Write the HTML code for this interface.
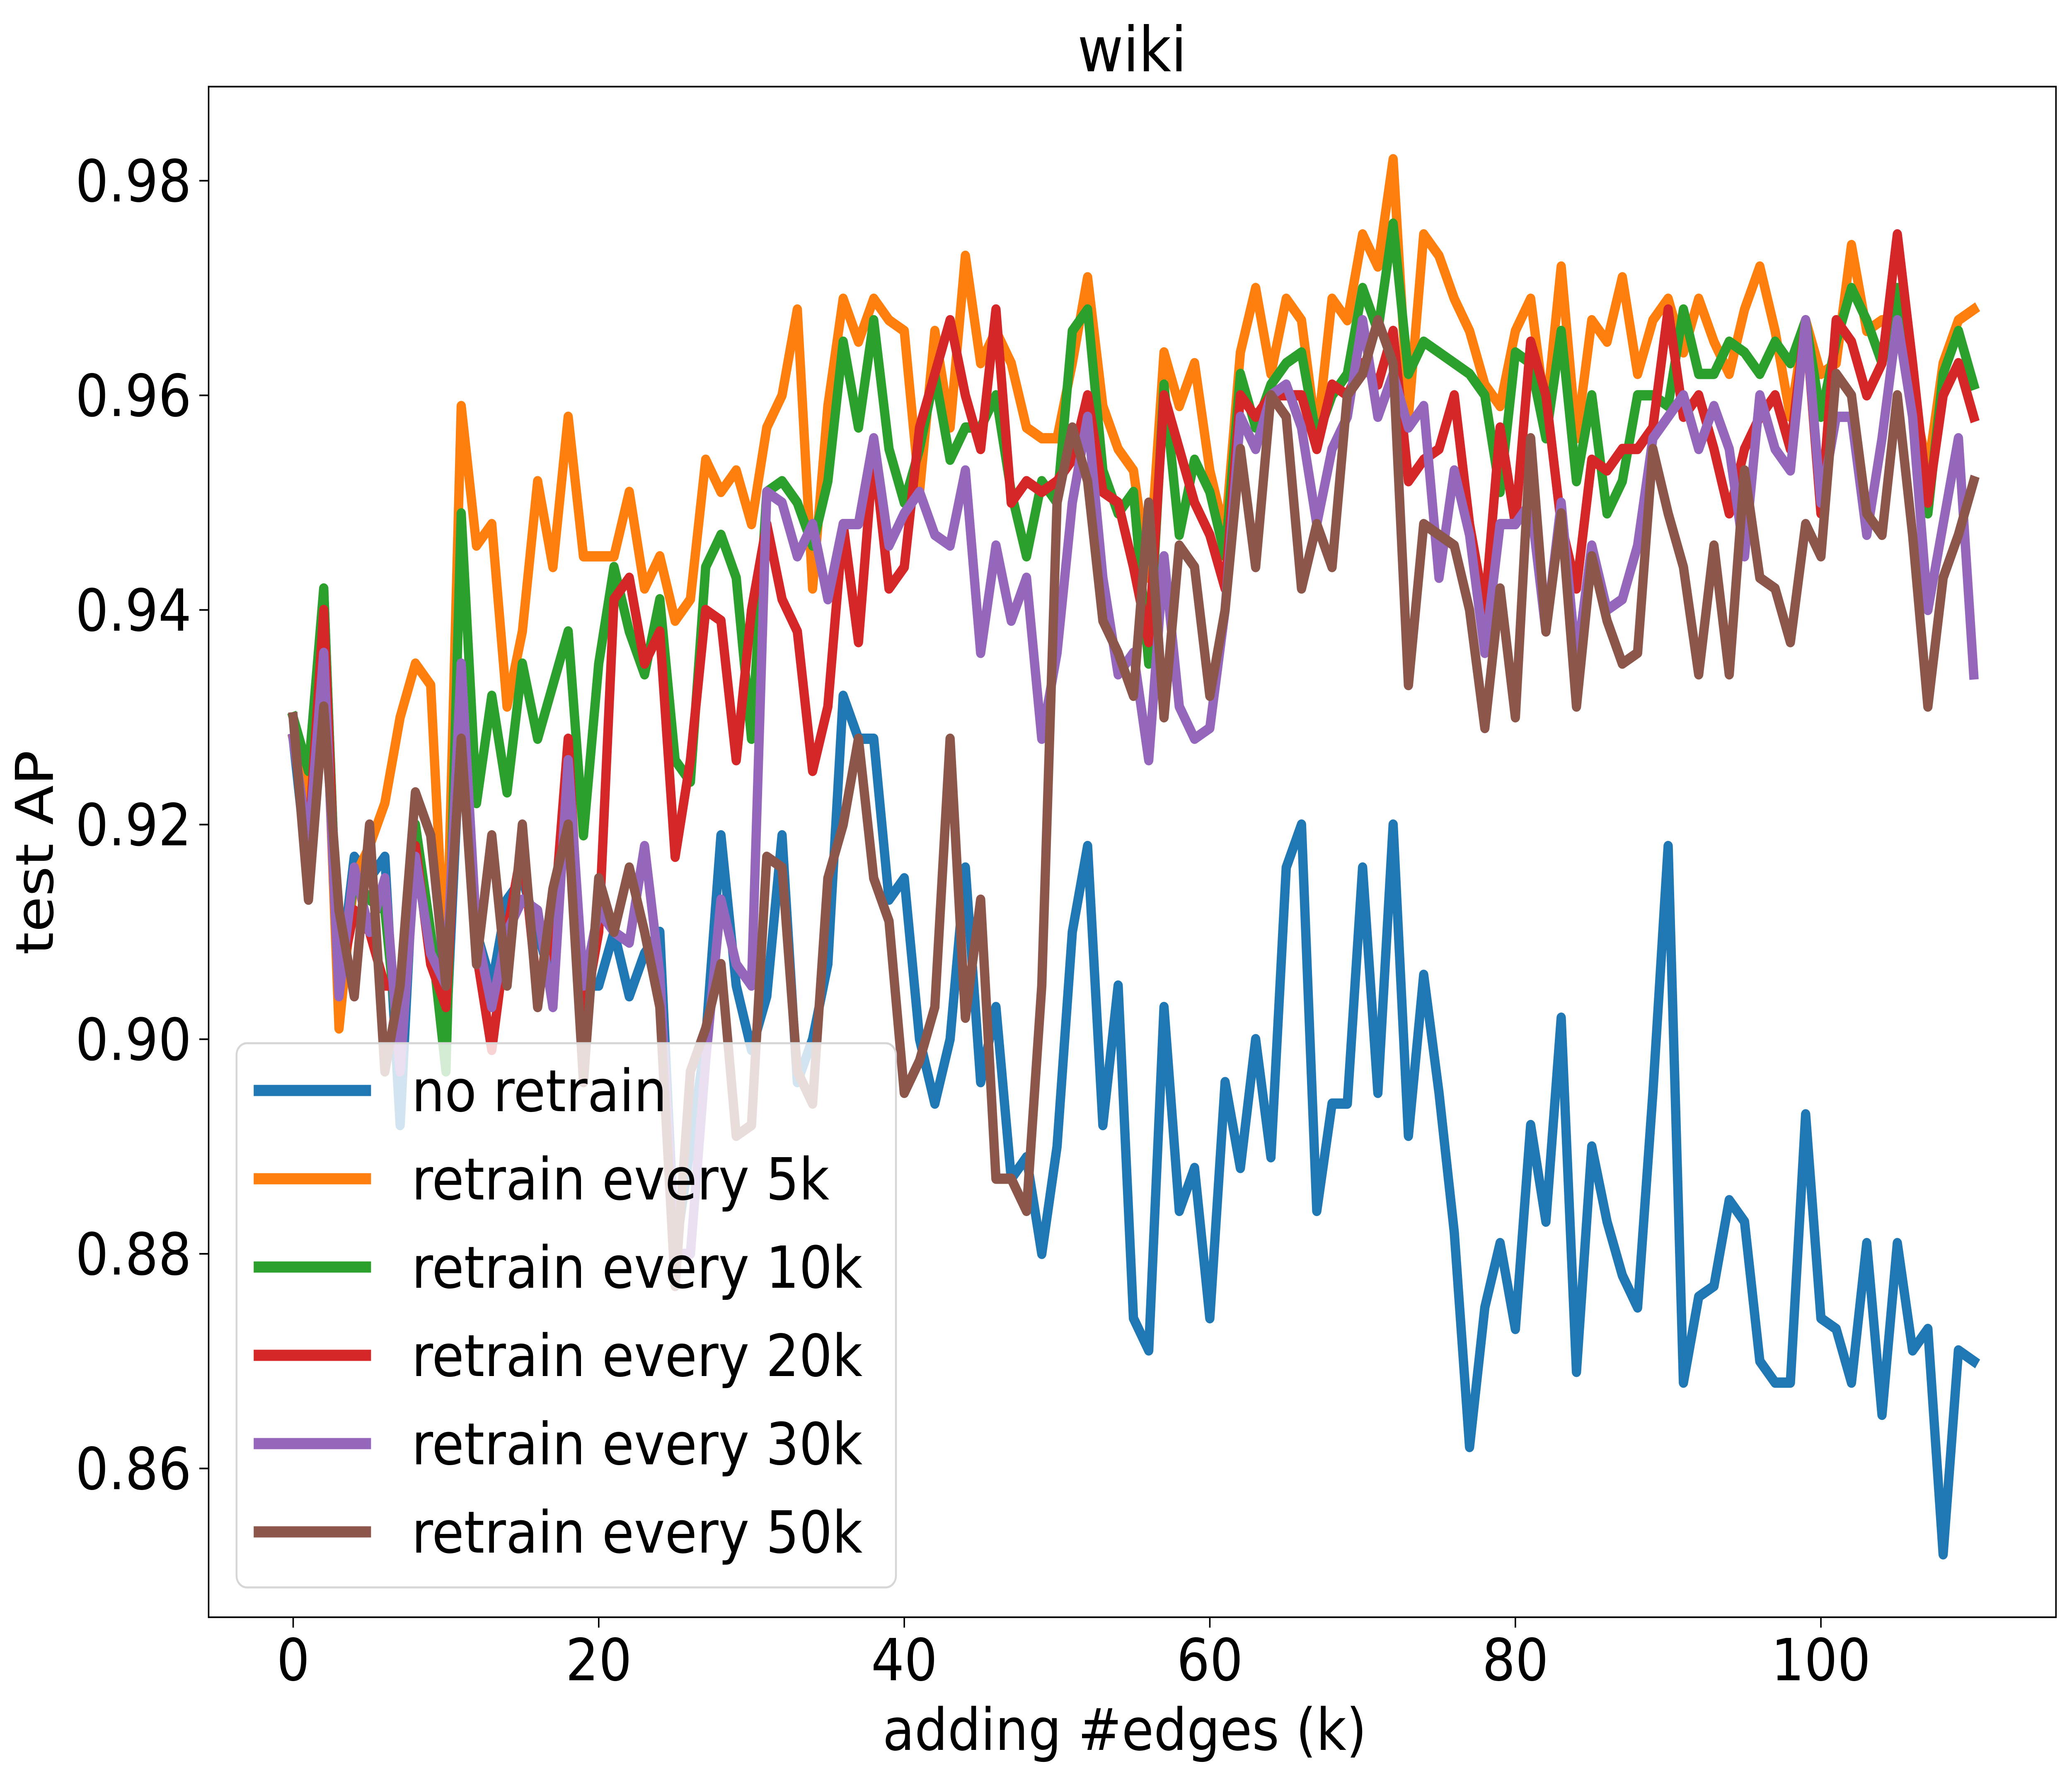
<!DOCTYPE html>
<html><head><meta charset="utf-8"><style>
html,body{margin:0;padding:0;background:#fff;width:100%;height:100%;overflow:hidden;}
svg{display:block;width:100vw;height:100vh;font-family:"DejaVu Sans","Liberation Sans",sans-serif;}
</style></head><body>
<svg id="chart" viewBox="0 0 5562 4285" preserveAspectRatio="none" xmlns="http://www.w3.org/2000/svg">
<rect width="5562" height="4285" fill="#fff"/>
<text x="3039" y="172" font-size="150" text-anchor="middle">wiki</text>
<g id="plot"></g>
<g id="axes"></g>
<g id="legend"></g>
<text x="3019" y="4222" font-size="140" text-anchor="middle">adding #edges (k)</text>
<text transform="translate(142,2057) rotate(-90)" font-size="140" text-anchor="middle">test AP</text>
</svg>
<script>
const seriesNames = ["no retrain","retrain every 5k","retrain every 10k","retrain every 20k","retrain every 30k","retrain every 50k"];
const seriesColors = ["#1f77b4","#ff7f0e","#2ca02c","#d62728","#9467bd","#8c564b"];
const xTicks = [0,20,40,60,80,100];
const yTicks = [0.86,0.88,0.90,0.92,0.94,0.96,0.98];
const yTickLabels = ["0.86","0.88","0.90","0.92","0.94","0.96","0.98"];
const noRetrain = [0.928,0.915,0.942,0.905,0.917,0.915,0.917,0.892,0.92,0.91,0.90,0.93,0.91,0.905,0.913,0.915,0.91,0.905,0.925,0.905,0.905,0.91,0.904,0.908,0.91,0.88,0.89,0.9,0.919,0.905,0.899,0.904,0.919,0.896,0.9,0.907,0.932,0.928,0.928,0.913,0.915,0.9,0.894,0.9,0.916,0.896,0.903,0.887,0.889,0.880,0.89,0.91,0.918,0.892,0.905,0.874,0.871,0.903,0.884,0.888,0.874,0.896,0.888,0.9,0.889,0.916,0.92,0.884,0.894,0.894,0.916,0.895,0.92,0.891,0.906,0.895,0.882,0.862,0.875,0.881,0.873,0.892,0.883,0.902,0.869,0.89,0.883,0.878,0.875,0.895,0.918,0.868,0.876,0.877,0.885,0.883,0.87,0.868,0.868,0.893,0.874,0.873,0.868,0.881,0.865,0.881,0.871,0.873,0.852,0.871,0.87];
const every5k = [0.928,0.922,0.938,0.901,0.915,0.918,0.922,0.93,0.935,0.933,0.905,0.959,0.946,0.948,0.931,0.938,0.952,0.944,0.958,0.945,0.945,0.945,0.951,0.942,0.945,0.939,0.941,0.954,0.951,0.953,0.948,0.957,0.96,0.968,0.942,0.959,0.969,0.965,0.969,0.967,0.966,0.951,0.966,0.957,0.973,0.963,0.966,0.963,0.957,0.956,0.956,0.963,0.971,0.959,0.955,0.953,0.943,0.964,0.959,0.963,0.953,0.947,0.964,0.97,0.962,0.969,0.967,0.956,0.969,0.967,0.975,0.972,0.982,0.958,0.975,0.973,0.969,0.966,0.961,0.959,0.966,0.969,0.958,0.972,0.956,0.967,0.965,0.971,0.962,0.967,0.969,0.964,0.969,0.965,0.962,0.968,0.972,0.966,0.958,0.967,0.962,0.963,0.974,0.966,0.967,0.967,0.96,0.953,0.963,0.967,0.968];
const every10k = [0.93,0.925,0.942,0.905,0.915,0.913,0.912,0.898,0.92,0.91,0.897,0.949,0.922,0.932,0.923,0.935,0.928,0.933,0.938,0.919,0.935,0.944,0.938,0.934,0.941,0.926,0.924,0.944,0.947,0.943,0.928,0.951,0.952,0.95,0.946,0.952,0.965,0.957,0.967,0.955,0.95,0.955,0.962,0.954,0.957,0.957,0.96,0.951,0.945,0.952,0.95,0.966,0.968,0.953,0.949,0.951,0.935,0.961,0.947,0.954,0.951,0.945,0.962,0.957,0.961,0.963,0.964,0.956,0.96,0.962,0.97,0.966,0.976,0.962,0.965,0.964,0.963,0.962,0.96,0.951,0.964,0.963,0.956,0.966,0.952,0.96,0.949,0.952,0.96,0.96,0.959,0.968,0.962,0.962,0.965,0.964,0.962,0.965,0.963,0.967,0.958,0.965,0.97,0.967,0.963,0.97,0.96,0.949,0.962,0.966,0.961];
const every20k = [0.928,0.918,0.940,0.905,0.912,0.91,0.905,0.905,0.918,0.907,0.903,0.93,0.908,0.899,0.91,0.918,0.904,0.91,0.928,0.902,0.91,0.941,0.943,0.935,0.938,0.917,0.926,0.94,0.939,0.926,0.94,0.948,0.941,0.938,0.925,0.931,0.948,0.937,0.955,0.942,0.944,0.957,0.962,0.967,0.96,0.955,0.968,0.95,0.952,0.951,0.952,0.954,0.96,0.951,0.95,0.944,0.937,0.96,0.955,0.95,0.947,0.942,0.96,0.958,0.96,0.96,0.96,0.955,0.961,0.96,0.963,0.961,0.966,0.952,0.954,0.955,0.96,0.948,0.94,0.957,0.948,0.965,0.96,0.948,0.942,0.954,0.953,0.955,0.955,0.957,0.968,0.958,0.96,0.955,0.949,0.955,0.958,0.96,0.955,0.967,0.949,0.967,0.965,0.96,0.963,0.975,0.963,0.95,0.96,0.963,0.958];
const every30k = [0.928,0.918,0.936,0.904,0.916,0.91,0.915,0.897,0.917,0.908,0.905,0.935,0.91,0.903,0.91,0.913,0.912,0.903,0.926,0.905,0.912,0.91,0.909,0.918,0.906,0.88,0.88,0.898,0.913,0.907,0.905,0.951,0.95,0.945,0.948,0.941,0.948,0.948,0.956,0.946,0.949,0.951,0.947,0.946,0.953,0.936,0.946,0.939,0.943,0.928,0.936,0.95,0.958,0.943,0.934,0.936,0.926,0.945,0.931,0.928,0.929,0.94,0.958,0.955,0.96,0.961,0.957,0.948,0.955,0.958,0.967,0.958,0.962,0.957,0.959,0.943,0.953,0.947,0.936,0.948,0.948,0.95,0.938,0.95,0.935,0.946,0.94,0.941,0.946,0.956,0.958,0.96,0.955,0.959,0.955,0.945,0.96,0.955,0.953,0.967,0.95,0.958,0.958,0.947,0.956,0.967,0.958,0.94,0.948,0.956,0.934];
const every50k = [0.93,0.913,0.931,0.912,0.904,0.92,0.897,0.905,0.923,0.919,0.905,0.928,0.907,0.919,0.905,0.92,0.903,0.914,0.92,0.896,0.915,0.91,0.916,0.91,0.903,0.877,0.897,0.901,0.907,0.891,0.892,0.917,0.916,0.897,0.894,0.915,0.92,0.928,0.915,0.911,0.895,0.898,0.903,0.928,0.902,0.913,0.887,0.887,0.884,0.905,0.95,0.957,0.952,0.939,0.936,0.932,0.95,0.93,0.946,0.944,0.932,0.94,0.955,0.944,0.96,0.958,0.942,0.948,0.944,0.96,0.962,0.967,0.963,0.933,0.948,0.947,0.946,0.94,0.929,0.942,0.93,0.956,0.938,0.949,0.931,0.945,0.939,0.935,0.936,0.955,0.949,0.944,0.934,0.946,0.934,0.953,0.943,0.942,0.937,0.948,0.945,0.962,0.96,0.949,0.947,0.96,0.947,0.931,0.943,0.947,0.952];
const allSeries = [noRetrain,every5k,every10k,every20k,every30k,every50k];

const NS="http://www.w3.org/2000/svg";
const L=560,R=5519,T=209,B=3902;
function xs(v){return 787+(4888-787)*v/100;}
function ys(v){return 3543+(436-3543)*(v-0.86)/0.12;}
function mk(tag,attrs,parent){const e=document.createElementNS(NS,tag);for(const k in attrs)e.setAttribute(k,attrs[k]);parent.appendChild(e);return e;}
const plot=document.getElementById('plot');
const clip=mk('clipPath',{id:'pc'},plot);mk('rect',{x:L,y:T,width:R-L,height:B-T},clip);
allSeries.forEach((s,i)=>{
  const d=s.map((v,j)=>(j?'L':'M')+xs(j).toFixed(1)+' '+ys(v).toFixed(1)).join(' ');
  const p=mk('path',{d:d,fill:'none',stroke:seriesColors[i],'stroke-width':25,'stroke-linejoin':'round','stroke-linecap':'square','clip-path':'url(#pc)'},plot);
  
  
});
const axes=document.getElementById('axes');
const frame=mk('rect',{x:L,y:T,width:R-L,height:B-T,fill:'none',stroke:'#000','stroke-width':4},axes);


xTicks.forEach(t=>{
  const x=xs(t);
  const tk=mk('line',{x1:x,x2:x,y1:B,y2:B+25,stroke:'#000','stroke-width':4},axes);
  
  
  const tx=mk('text',{x:x,y:4054,'font-size':140,'text-anchor':'middle'},axes);
  tx.textContent=String(t);
  
  
});
yTicks.forEach((t,i)=>{
  const y=ys(t);
  const tk=mk('line',{x1:L-25,x2:L,y1:y,y2:y,stroke:'#000','stroke-width':4},axes);
  
  
  const tx=mk('text',{x:514,y:y+50,'font-size':140,'text-anchor':'end'},axes);
  tx.textContent=yTickLabels[i];
  
  
});
const lg=document.getElementById('legend');
const box=mk('rect',{x:635,y:2517,width:1770,height:1313,rx:28,fill:'#fff','fill-opacity':0.8,stroke:'#d6d6d6','stroke-width':5},lg);


seriesNames.forEach((n,i)=>{
  const y=2631+213*i;
  const ln=mk('line',{x1:681,x2:996,y1:y,y2:y,stroke:seriesColors[i],'stroke-width':27},lg);
  
  
  const tx=mk('text',{x:1105,y:y+50,'font-size':140},lg);
  tx.textContent=n;
  
  
});
</script>
</body></html>
